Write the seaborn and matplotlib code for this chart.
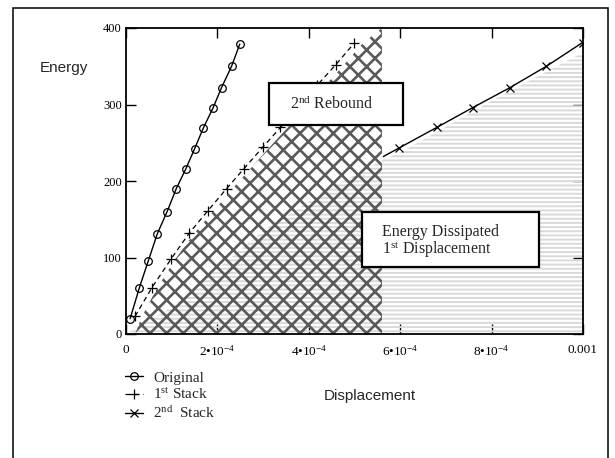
import numpy as np
import pandas as pd
import matplotlib
matplotlib.use("Agg")
import matplotlib.pyplot as plt
from matplotlib.patches import Rectangle
import seaborn as sns

# ---- data ----
orig_x = [0.09e-4, 0.29e-4, 0.49e-4, 0.685e-4, 0.90e-4, 1.10e-4, 1.31e-4, 1.50e-4, 1.69e-4, 1.90e-4, 2.09e-4, 2.31e-4, 2.49e-4]
orig_y = [20, 60, 96, 131, 160, 190, 216, 242, 269, 295, 322, 350, 379]

stack1_x = [0.197e-4, 0.56e-4, 0.985e-4, 1.385e-4, 1.79e-4, 2.20e-4, 2.58e-4, 2.99e-4, 3.38e-4, 3.78e-4, 4.18e-4, 4.59e-4, 4.99e-4]
stack1_y = [23, 60, 98, 132, 161, 190, 216, 244, 270, 298, 325, 352, 380]

stack2_x = [0.563e-3, 0.597e-3, 0.680e-3, 0.759e-3, 0.840e-3, 0.920e-3, 0.999e-3]
stack2_y = [232, 243, 270, 296, 322, 350, 381]
stack2_marker_every = list(range(1, 7))

# region boundaries
rebound_y = [0, 23, 60, 98, 132, 161, 190, 216, 244, 270, 298, 325, 352, 380, 400]
rebound_left = [0.2e-4, 0.35e-4, 0.68e-4, 1.08e-4, 1.5e-4, 1.92e-4, 2.33e-4, 2.72e-4, 3.14e-4, 3.54e-4, 3.95e-4, 4.36e-4, 4.77e-4, 5.18e-4, 5.6e-4]
rebound_right = 5.6e-4

diss_x = [0, 1e-4, 2e-4, 3e-4, 4.4e-4, 5.63e-4, 6e-4, 8e-4, 1e-3]
diss_y = [0, 35, 85, 135, 188, 228, 237, 305, 368]

xticks = [0, 2e-4, 4e-4, 6e-4, 8e-4, 1e-3]
xticklabels = ["0", "2•10$^{-4}$", "4•10$^{-4}$", "6•10$^{-4}$", "8•10$^{-4}$", "0.001"]
yticks = [0, 100, 200, 300, 400]
yticklabels = ["0", "100", "200", "300", "400"]

legend_labels = ["Original", "1$^{\\mathrm{st}}$ Stack", "2$^{\\mathrm{nd}}$  Stack"]

# ---- style ----
sns.set_theme(style="white")
plt.rcParams["font.family"] = ["Liberation Serif", "DejaVu Serif"]
plt.rcParams["mathtext.fontset"] = "custom"
plt.rcParams["mathtext.rm"] = "Liberation Serif"
plt.rcParams["mathtext.it"] = "Liberation Serif:italic"
plt.rcParams["mathtext.bf"] = "Liberation Serif:bold"
plt.rcParams["axes.linewidth"] = 1.3
plt.rcParams["axes.edgecolor"] = "black"

fig = plt.figure(figsize=(6.15, 4.58), dpi=100)
ax = fig.add_axes([126 / 615, 1 - 334 / 458, 457 / 615, 306 / 458])
ax.set_facecolor("white")

# striped region (energy dissipated)
with plt.rc_context({"hatch.linewidth": 1.4, "hatch.color": "#d9d9d9"}):
    c1 = ax.fill_between(diss_x, 0, diss_y, facecolor="none", edgecolor="#d9d9d9",
                         linewidth=0, hatch="----", zorder=1)
    if hasattr(c1, "set_hatch_linewidth"):
        c1.set_hatch_linewidth(1.4)

# cross-hatched region (2nd rebound)
with plt.rc_context({"hatch.linewidth": 1.9, "hatch.color": "#5a5a5a"}):
    c2 = ax.fill_betweenx(rebound_y, rebound_left, rebound_right, facecolor="none",
                          edgecolor="#5a5a5a", linewidth=0, hatch="xx", zorder=2)
    if hasattr(c2, "set_hatch_linewidth"):
        c2.set_hatch_linewidth(1.9)

# series
common = dict(color="black", markeredgecolor="black", estimator=None, sort=False, zorder=4)
sns.lineplot(x=orig_x, y=orig_y, ax=ax, lw=1.0, marker="o", markersize=5.5,
             markerfacecolor="none", markeredgewidth=0.9, label=legend_labels[0], **common)
sns.lineplot(x=stack1_x, y=stack1_y, ax=ax, lw=0.9, linestyle=(0, (4, 3)),
             marker="+", markersize=7, markeredgewidth=0.9, label=legend_labels[1], **common)
sns.lineplot(x=stack2_x, y=stack2_y, ax=ax, lw=1.0, marker="x", markersize=6,
             markeredgewidth=0.9, markevery=stack2_marker_every,
             label=legend_labels[2], **common)

ax.set_xlim(0, 1e-3)
ax.set_ylim(0, 400)
ax.set_xticks(xticks)
ax.set_xticklabels(xticklabels, fontsize=9.5)
ax.set_yticks(yticks)
ax.set_yticklabels(yticklabels, fontsize=9)
ax.tick_params(direction="in", length=7, width=1.0, top=True, right=True,
               bottom=True, left=True, colors="black", pad=7)
ax.tick_params(axis="y", pad=3)
for s in ax.spines.values():
    s.set_visible(True)
    s.set_color("black")
ax.set_xlabel("")
ax.set_ylabel("")

# annotation boxes
ax.add_patch(Rectangle((0.313, 0.683), 0.293, 0.137, transform=ax.transAxes,
                       facecolor="white", edgecolor="black", linewidth=1.6, zorder=6))
ax.text(0.359, 0.752, "2$^{\\mathrm{nd}}$ Rebound", transform=ax.transAxes,
        fontsize=11.5, ha="left", va="center", zorder=7)
ax.add_patch(Rectangle((0.516, 0.219), 0.388, 0.180, transform=ax.transAxes,
                       facecolor="white", edgecolor="black", linewidth=1.6, zorder=6))
ax.text(0.560, 0.333, "Energy Dissipated", transform=ax.transAxes,
        fontsize=11.5, ha="left", va="center", zorder=7)
ax.text(0.560, 0.275, "1$^{\\mathrm{st}}$ Displacement", transform=ax.transAxes,
        fontsize=11.5, ha="left", va="center", zorder=7)

# axis titles
fig.text(64 / 615, 1 - 68 / 458, "Energy", family="Liberation Sans", fontsize=11,
         ha="center", va="center")
fig.text(370 / 615, 1 - 396 / 458, "Displacement", family="Liberation Sans", fontsize=11,
         ha="center", va="center")

# legend (use the plotted lines themselves as handles)
if ax.get_legend() is not None:
    ax.get_legend().remove()
series_lines = [ln for ln in ax.get_lines() if ln.get_label() in legend_labels]
fig.legend(series_lines, [ln.get_label() for ln in series_lines], loc="upper left",
           bbox_to_anchor=(125 / 615, 1 - 371 / 458),
           frameon=False, fontsize=11, handlelength=1.2, handletextpad=0.65,
           labelspacing=0.17, borderpad=0, borderaxespad=0, numpoints=1)

# outer frame
fig.add_artist(Rectangle((13 / 615, -0.05), (608 - 13) / 615, 1.05 - 8 / 458,
                         transform=fig.transFigure, facecolor="none",
                         edgecolor="black", linewidth=1.1))

fig.savefig("out.png", dpi=100)
